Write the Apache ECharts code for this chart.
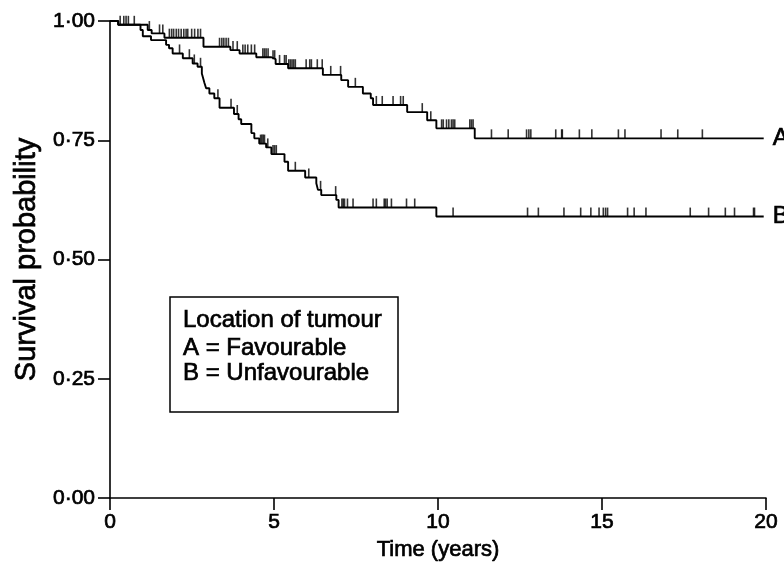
<!DOCTYPE html>
<html>
<head>
<meta charset="utf-8">
<script src="https://cdn.jsdelivr.net/npm/echarts@6/dist/echarts.min.js"></script>
<style>html,body{margin:0;padding:0;background:#fff}#c{width:784px;height:575px}</style>
</head>
<body>
<div id="c"></div>
<script>
// Group A: Favourable location (Kaplan-Meier step times and survival)
const aTimes = [0, 0.25, 1.15, 1.27, 1.66, 2.85, 3.67, 3.95, 4.46, 4.92, 5.05, 5.43, 6.49, 7.05, 7.26, 7.71, 7.95, 8.02, 9.06, 9.67, 9.95, 11.12, 19.93];
const aSurv  = [1.0, 0.992, 0.981, 0.974, 0.965, 0.946, 0.939, 0.932, 0.924, 0.920, 0.910, 0.901, 0.887, 0.876, 0.862, 0.848, 0.838, 0.824, 0.809, 0.792, 0.775, 0.754, 0.754];
// Group B: Unfavourable location
const bTimes = [0, 0.25, 0.93, 1.0, 1.25, 1.71, 1.80, 1.91, 2.22, 2.52, 2.67, 2.80, 2.84, 2.88, 2.93, 3.03, 3.18, 3.34, 3.78, 3.92, 4.00, 4.31, 4.40, 4.55, 4.76, 4.92, 5.32, 5.43, 5.95, 6.29, 6.34, 6.44, 6.90, 6.97, 9.95, 19.93];
const bSurv  = [1.0, 0.992, 0.981, 0.968, 0.960, 0.950, 0.943, 0.932, 0.922, 0.911, 0.904, 0.890, 0.880, 0.870, 0.859, 0.848, 0.838, 0.818, 0.805, 0.794, 0.784, 0.765, 0.754, 0.743, 0.735, 0.721, 0.705, 0.686, 0.672, 0.660, 0.646, 0.635, 0.625, 0.609, 0.590, 0.590];
// Censored observation times
const aCensor = [0.31, 0.42, 0.49, 0.56, 0.74, 1.20, 1.51, 1.61, 1.81, 1.88, 1.94, 2.02, 2.09, 2.17, 2.25, 2.32, 2.37, 2.49, 2.58, 2.68, 2.76,
  3.34, 3.41, 3.47, 3.54, 3.61, 3.75, 3.88, 4.05, 4.12, 4.20, 4.31, 4.41, 4.66, 4.71, 4.76, 4.82, 4.97, 5.02, 5.17, 5.32, 5.37,
  5.45, 5.50, 5.55, 5.60, 5.65, 5.98, 6.09, 6.14, 6.32, 6.47, 6.73, 7.03, 7.48, 8.12, 8.30, 8.63, 8.86, 8.94, 9.52, 9.78,
  10.11, 10.16, 10.26, 10.33, 10.41, 10.46, 10.51, 10.97, 11.02, 11.07,
  11.63, 12.14, 12.70, 12.77, 12.83, 13.59, 13.77, 13.79, 14.31, 14.69, 15.50, 15.70, 16.80, 17.31, 18.06];
const bCensor = [2.12, 2.42, 2.57, 2.76, 3.29, 3.69, 3.88, 4.59, 4.63, 4.67, 4.71, 4.81, 4.97, 5.02, 5.07, 5.65, 6.06, 6.42, 6.88,
  7.07, 7.11, 7.15, 7.24, 7.41, 8.02, 8.12, 8.36, 8.40, 8.45, 8.58, 9.04, 9.29,
  10.46, 12.73, 13.06, 13.84, 14.35, 14.66, 14.91, 15.04, 15.11, 15.17, 15.78, 15.98, 16.34, 17.69, 18.25, 18.76, 19.04, 19.62, 19.65];
const xTickLabels = ['0', '5', '10', '15', '20'];
const yTickLabels = ['0·00', '0·25', '0·50', '0·75', '1·00'];
const seriesNames = ['A', 'B'];
const legendLines = ['Location of tumour', 'A = Favourable', 'B = Unfavourable'];

function levelAt(times, surv, t) {
  let v = surv[0];
  for (let i = 0; i < times.length; i++) { if (times[i] <= t) v = surv[i]; else break; }
  return v;
}
const pairs = (ts, ss) => ts.map((t, i) => [t, ss[i]]);
const censorPts = (cs, ts, ss) => cs.map(t => [t, levelAt(ts, ss, t)]);

const FONT = '"Liberation Sans", Arial, Helvetica, sans-serif';
const HEAVY = {textBorderColor: '#000', textBorderWidth: 0.7};
const chart = echarts.init(document.getElementById('c'), null, {renderer: 'canvas'});
const lineCommon = {type: 'line', step: 'end', symbol: 'none', silent: true, lineStyle: {color: '#000', width: 1.9}, z: 3};
const tickCommon = {type: 'scatter', symbol: 'rect', symbolSize: [1.6, 9], symbolOffset: [0, '-50%'], itemStyle: {color: '#000'}, silent: true, z: 4};
const endLbl = name => Object.assign({show: true, formatter: name, distance: 9, color: '#000', fontFamily: FONT, fontSize: 24}, HEAVY);

chart.setOption({
  animation: false,
  backgroundColor: '#fff',
  grid: {left: 110, right: 18, top: 21, bottom: 77, containLabel: false, outerBoundsMode: 'none'},
  xAxis: {
    type: 'value', min: 0, max: 20, interval: 5,
    name: 'Time (years)', nameLocation: 'middle', nameGap: 35,
    nameTextStyle: Object.assign({color: '#000', fontFamily: FONT, fontSize: 22}, HEAVY),
    axisLine: {show: true, onZero: false, lineStyle: {color: '#000', width: 1.6}},
    axisTick: {show: true, length: 12, lineStyle: {color: '#000', width: 1.6}},
    axisLabel: Object.assign({color: '#000', fontFamily: FONT, fontSize: 21, margin: 14,
      formatter: v => xTickLabels[Math.round(v / 5)]}, HEAVY),
    splitLine: {show: false}
  },
  yAxis: {
    type: 'value', min: 0, max: 1, interval: 0.25,
    name: 'Survival probability', nameLocation: 'middle', nameGap: 68, nameRotate: 90,
    nameTextStyle: Object.assign({color: '#000', fontFamily: FONT, fontSize: 29}, HEAVY),
    axisLine: {show: true, onZero: false, lineStyle: {color: '#000', width: 1.6}},
    axisTick: {show: true, length: 12, lineStyle: {color: '#000', width: 1.6}},
    axisLabel: Object.assign({color: '#000', fontFamily: FONT, fontSize: 21, margin: 15,
      formatter: v => yTickLabels[Math.round(v / 0.25)]}, HEAVY),
    splitLine: {show: false}
  },
  series: [
    Object.assign({name: seriesNames[0], data: pairs(aTimes, aSurv), endLabel: endLbl(seriesNames[0])}, lineCommon),
    Object.assign({name: seriesNames[1], data: pairs(bTimes, bSurv), endLabel: endLbl(seriesNames[1])}, lineCommon),
    Object.assign({name: 'A censored', data: censorPts(aCensor, aTimes, aSurv)}, tickCommon),
    Object.assign({name: 'B censored', data: censorPts(bCensor, bTimes, bSurv)}, tickCommon)
  ],
  graphic: [
    {type: 'rect', shape: {x: 170, y: 297, width: 228, height: 115}, style: {fill: '#fff', stroke: '#000', lineWidth: 1.5}, z: 10},
    {type: 'text', x: 183, y: 320, style: {text: legendLines[0], fill: '#000', stroke: '#000', lineWidth: 0.7, font: '24px ' + FONT, verticalAlign: 'middle'}, z: 11},
    {type: 'text', x: 183, y: 348, style: {text: legendLines[1], fill: '#000', stroke: '#000', lineWidth: 0.7, font: '24px ' + FONT, verticalAlign: 'middle'}, z: 11},
    {type: 'text', x: 183, y: 373, style: {text: legendLines[2], fill: '#000', stroke: '#000', lineWidth: 0.7, font: '24px ' + FONT, verticalAlign: 'middle'}, z: 11}
  ]
});
</script>
</body>
</html>
